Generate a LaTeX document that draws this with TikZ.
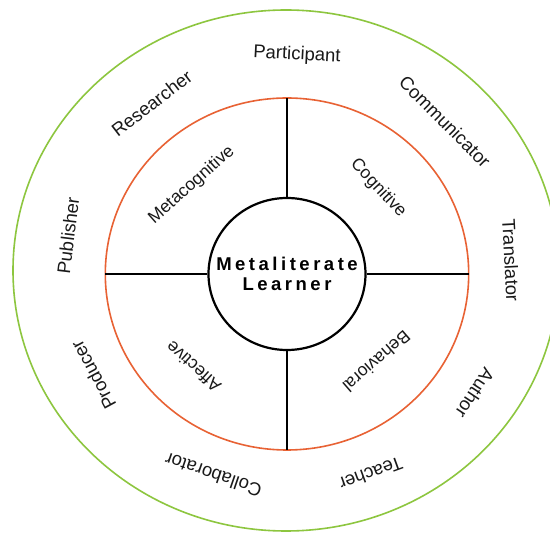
\documentclass[tikz,border=0pt]{standalone}
\usepackage{fontspec}
\setmainfont{Liberation Sans}
\usetikzlibrary{shapes.geometric}
\definecolor{ringorange}{RGB}{232,98,52}
\definecolor{ringgreen}{RGB}{141,198,63}

\begin{document}
\begin{tikzpicture}[x=1pt, y=1pt,
  outerlabel/.style={font=\fontsize{18.5}{20}\selectfont, text=black!90, inner sep=0pt},
  innerlabel/.style={font=\fontsize{17.5}{19}\selectfont, text=black!90, inner sep=0pt},
  spoke/.style={line width=2.2pt}]
% Page frame
\useasboundingbox (0,0) rectangle (550,536);
\clip (0,0) rectangle (550,536);
\fill[white] (0,0) rectangle (550,536);

% Outer and inner rings
\draw[ringgreen, line width=1.6pt] (286,265.5) ellipse [x radius=273, y radius=260.5];
\draw[ringorange, line width=1.6pt] (287,262) ellipse [x radius=181.7, y radius=176];

% Center circle
\node[ellipse, draw, line width=2.2pt, minimum width=157pt, minimum height=152pt,
  inner sep=0pt] (learner) at (287,262) {};
\node[align=center, inner sep=0pt,
  font=\fontsize{18.5}{20.5}\selectfont\bfseries\addfontfeature{LetterSpace=19}]
  (learnertext) at (learner.center) {Metaliterate\\Learner};

% Spokes to the orange ring
\coordinate (ringtop) at (287,438);
\coordinate (ringbottom) at (287,86);
\coordinate (ringleft) at (105.3,262);
\coordinate (ringright) at (468.7,262);
\draw[spoke] (learner.north) -- (ringtop);
\draw[spoke] (learner.south) -- (ringbottom);
\draw[spoke] (learner.west) -- (ringleft);
\draw[spoke] (learner.east) -- (ringright);

% Quadrant labels
\node[innerlabel, rotate=41.5] (metacognitive) at (191.7,351) {Metacognitive};
\node[innerlabel, rotate=-47] (cognitive) at (378.3,347.7) {Cognitive};
\node[innerlabel, rotate=-139] (behavioral) at (376.7,174.3) {Behavioral};
\node[innerlabel, rotate=138] (affective) at (193.3,169.3) {Affective};

% Roles around the outer ring
\node[outerlabel, rotate=-3] (participant) at (297,481) {Participant};
\node[outerlabel, rotate=-45] (communicator) at (445,414.3) {Communicator};
\node[outerlabel, rotate=-87] (translator) at (511,276) {Translator};
\node[outerlabel, rotate=-123.5] (author) at (475,142.7) {Author};
\node[outerlabel, rotate=-160] (teacher) at (371,62) {Teacher};
\node[outerlabel, rotate=161] (collaborator) at (213.3,61) {Collaborator};
\node[outerlabel, rotate=118.3] (producer) at (93.3,161) {Producer};
\node[outerlabel, rotate=83] (publisher) at (68,300.5) {Publisher};
\node[outerlabel, rotate=37.5] (researcher) at (151.7,432.7) {Researcher};
\end{tikzpicture}
\end{document}
